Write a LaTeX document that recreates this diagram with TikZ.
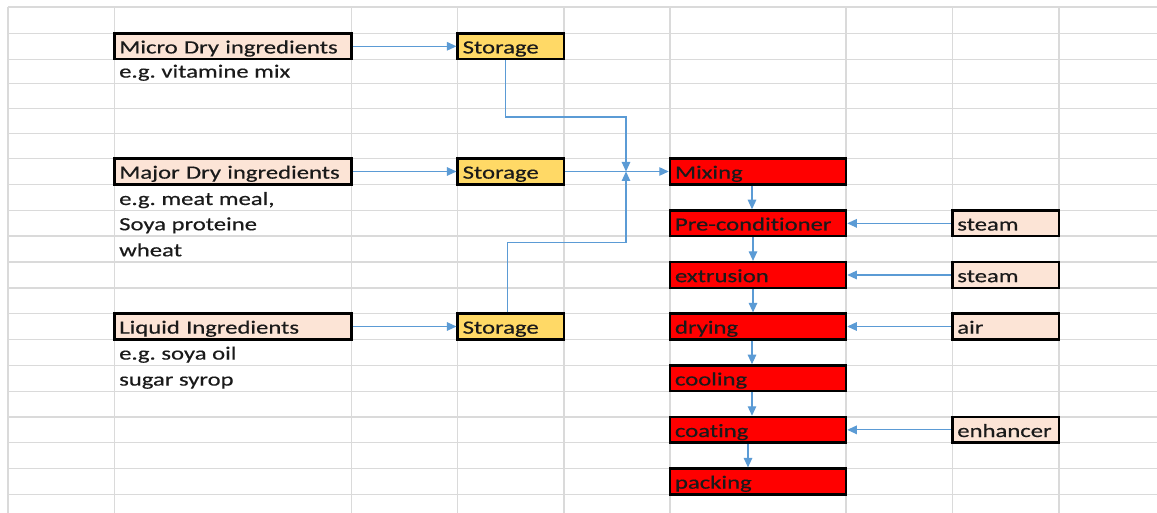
\documentclass[tikz,border=0pt]{standalone}
\usepackage{fontspec}
\setmainfont{Carlito}[FakeStretch=1.32, Ligatures=NoCommon, FakeBold=0.4]
\usetikzlibrary{arrows.meta}
\definecolor{peach}{HTML}{FCE4D6}
\definecolor{gold}{HTML}{FFD966}
\definecolor{arrowblue}{HTML}{5B9BD5}
\definecolor{gridgray}{HTML}{DADADA}
\definecolor{txt}{HTML}{1A1A1A}
\newcommand{\fsz}{\fontsize{18.7pt}{22pt}\selectfont\frenchspacing}
\begin{document}
\begin{tikzpicture}[x=1pt,y=-1pt,
  cell/.style={draw=black, line width=2.5pt, inner xsep=5pt, inner ysep=0pt,
    text height=20pt, text depth=5.7pt, align=left, font=\fsz, text=txt},
  peachbox/.style={cell, fill=peach},
  storebox/.style={cell, fill=gold, text width=96.3pt},
  redbox/.style={cell, fill=red, text width=166pt},
  inbox/.style={cell, fill=peach, text width=96.7pt},
  note/.style={anchor=base west, inner sep=0pt, font=\fsz, text=txt},
  gridline/.style={draw=gridgray, line width=1.4pt},
  arr/.style={draw=arrowblue, line width=1.2pt, -{Triangle[length=9.5pt,width=8.5pt]}}
]
\useasboundingbox (0,0) rectangle (1157,513);
\fill[white] (0,0) rectangle (1157,513);
% spreadsheet grid
\foreach \x in {8,114.3,351.7,457.7,564,670,846,952.3,1059}
  \draw[gridline] (\x,7) -- (\x,513);
\foreach \y in {7,33.3,59.3,83.3,108.3,133.3,158.7,184.3,210.7,236,262,288,313.7,339.3,365.3,391.3,417,442.7,468.3,494.7}
  \draw[gridline] (8,\y) -- (1157,\y);

% ingredient boxes
\node[peachbox, text width=227.4pt] (micro) at (233,46.3) {Micro Dry ingredients};
\node[note] (microeg) at (119,77.6) {e.g. vitamine mix};
\node[peachbox, text width=227.4pt] (major) at (233,171.5) {Major Dry ingredients};
\node[note] (majoreg1) at (119,205) {e.g. meat meal,};
\node[note] (majoreg2) at (119,230.3) {Soya proteine};
\node[note] (majoreg3) at (119,256.3) {wheat};
\node[peachbox, text width=227.4pt] (liquid) at (233,326.5) {Liquid Ingredients};
\node[note] (liquideg1) at (119,359.6) {e.g. soya oil};
\node[note] (liquideg2) at (119,385.6) {sugar syrop};

% storage
\node[storebox] (st1) at (510.85,46.3) {Storage};
\node[storebox] (st2) at (510.85,171.5) {Storage};
\node[storebox] (st3) at (510.85,326.5) {Storage};

% process steps
\node[redbox] (mix) at (758,171.5) {Mixing};
\node[redbox] (pre) at (758,223.35) {Pre-conditioner};
\node[redbox] (ext) at (758,275) {extrusion};
\node[redbox] (dry) at (758,326.5) {drying};
\node[redbox] (cool) at (758,378.3) {cooling};
\node[redbox] (coat) at (758,429.85) {coating};
\node[redbox] (pack) at (758,481.5) {packing};

% utilities
\node[inbox] (steam1) at (1005.65,223.35) {steam};
\node[inbox] (steam2) at (1005.65,275) {steam};
\node[inbox] (air) at (1005.65,326.5) {air};
\node[inbox] (enh) at (1005.65,429.85) {enhancer};

% connectors
\draw[arr] (micro.east) -- (st1.west);
\draw[arr] (major.east) -- (st2.west);
\draw[arr] (liquid.east) -- (st3.west);
\coordinate (J) at (626,171.5);
\coordinate (b1) at (626,117);
\coordinate (b3) at (626,242.3);
\draw[arr] ([xshift=-5pt]st1.south) |- (b1) -- (J);
\draw[arr] ([xshift=-3.5pt]st3.north) |- (b3) -- (J);
\draw[arr] (st2.east) -- (mix.west);
\draw[arr] ([xshift=-6pt]mix.south) -- ([xshift=-6pt]pre.north);
\draw[arr] ([xshift=-5pt]pre.south) -- ([xshift=-5pt]ext.north);
\draw[arr] ([xshift=-5pt]ext.south) -- ([xshift=-5pt]dry.north);
\draw[arr] ([xshift=-6pt]dry.south) -- ([xshift=-6pt]cool.north);
\draw[arr] ([xshift=-6pt]cool.south) -- ([xshift=-6pt]coat.north);
\draw[arr] ([xshift=-10pt]coat.south) -- ([xshift=-10pt]pack.north);
\draw[arr] (steam1.west) -- (pre.east);
\draw[arr] (steam2.west) -- (ext.east);
\draw[arr] (air.west) -- (dry.east);
\draw[arr] (enh.west) -- (coat.east);
\end{tikzpicture}
\end{document}
